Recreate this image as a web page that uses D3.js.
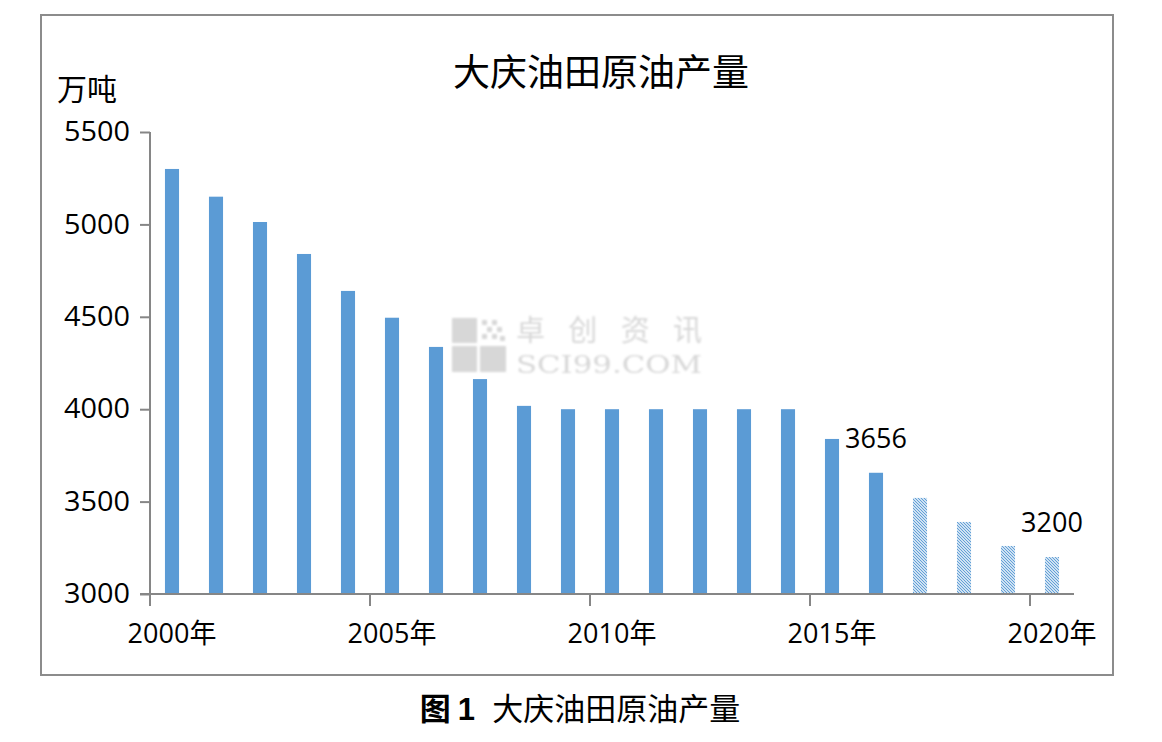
<!DOCTYPE html>
<html><head><meta charset="utf-8">
<script src="https://cdn.jsdelivr.net/npm/d3@7"></script>
<style>body{margin:0;background:#fff;} svg{display:block;}</style>
</head><body>
<script>
const years = [2000,2001,2002,2003,2004,2005,2006,2007,2008,2009,2010,2011,2012,2013,2014,2015,2016,2017,2018,2019,2020];
const output = [5300,5150,5013,4840,4640,4495,4337,4163,4018,4000,4000,4000,4000,4000,4000,3839,3656,3520,3390,3260,3200];
const forecastFrom = 2017;
const yTicks = [3000,3500,4000,4500,5000,5500];
const xLabelYears = [2000,2005,2010,2015,2020];
const annotations = [{year:2016, text:"3656"},{year:2020, text:"3200"}];

const W = 1162, H = 742;
const svg = d3.select("body").append("svg").attr("width", W).attr("height", H);
const cjk = "'Noto Sans CJK SC', sans-serif";
const num = "'Open Sans', 'Noto Sans', sans-serif";

svg.append("rect").attr("x",41).attr("y",15).attr("width",1072).attr("height",660)
  .attr("fill","#fff").attr("stroke","#8c8c8c").attr("stroke-width",2);

const defs = svg.append("defs");
const pat = defs.append("pattern").attr("id","hatch").attr("patternUnits","userSpaceOnUse")
  .attr("width",3).attr("height",3);
pat.append("rect").attr("width",3).attr("height",3).attr("fill","#fff");
pat.append("path").attr("d","M-1,-1 L4,4 M-1,2 L1,4 M2,-1 L4,1").attr("stroke","#5b9bd5").attr("stroke-width",1.1);
defs.append("filter").attr("id","blur").append("feGaussianBlur").attr("stdDeviation",0.8);

const x = d3.scaleBand().domain(years).range([150,1074]).paddingInner(0.68).paddingOuter(0.34);
const y = d3.scaleLinear().domain([3000,5500]).range([594,132]);

// watermark
const wm = svg.append("g").attr("opacity",0.5).attr("fill","#b0b0b0").attr("filter","url(#blur)");
wm.append("rect").attr("x",452).attr("y",318).attr("width",25).attr("height",25);
wm.append("rect").attr("x",452).attr("y",346).attr("width",25).attr("height",26);
wm.append("rect").attr("x",480).attr("y",346).attr("width",26).attr("height",26);
[[482,320],[492,320],[487,327],[497,327],[482,334],[492,334],[500,336]].forEach(p=>
  wm.append("rect").attr("x",p[0]).attr("y",p[1]).attr("width",5).attr("height",5));
wm.append("text").attr("x",516).attr("y",341).attr("font-family",cjk).attr("font-size",29)
  .attr("textLength",186).text("卓创资讯");
wm.append("text").attr("x",516).attr("y",373).attr("font-family","'DejaVu Serif', serif").attr("font-size",25)
  .attr("textLength",186).attr("lengthAdjust","spacingAndGlyphs").text("SCI99.COM");

// bars
svg.append("g").selectAll("rect").data(years).join("rect")
  .attr("x", d=>x(d)).attr("width", x.bandwidth())
  .attr("y", (d,i)=>y(output[i])).attr("height",(d,i)=>y(3000)-y(output[i]))
  .attr("fill", d=> d>=forecastFrom ? "url(#hatch)" : "#5b9bd5");

// y axis
const yAxis = d3.axisLeft(y).tickValues(yTicks).tickSize(10).tickPadding(10).tickFormat(d3.format("d"));
const gy = svg.append("g").attr("transform","translate(150,0)").call(yAxis);
gy.select(".domain").attr("stroke","#868686").attr("stroke-width",2).attr("d","M0,132V594");
gy.selectAll(".tick line").attr("stroke","#868686").attr("stroke-width",2);
gy.selectAll(".tick text").attr("font-family",num).attr("font-size",27).attr("fill","#000")
  .attr("textLength",66).attr("lengthAdjust","spacingAndGlyphs");

// x axis
svg.append("line").attr("x1",140).attr("x2",1074).attr("y1",594).attr("y2",594)
  .attr("stroke","#868686").attr("stroke-width",2);
const gx = svg.append("g");
gx.selectAll("line").data(xLabelYears).join("line")
  .attr("x1",d=>x(d)-x.step()*x.paddingInner()/2).attr("x2",d=>x(d)-x.step()*x.paddingInner()/2)
  .attr("y1",594).attr("y2",606).attr("stroke","#868686").attr("stroke-width",2);
gx.selectAll("text").data(xLabelYears).join("text")
  .attr("x",d=>x(d)+x.bandwidth()/2).attr("y",643).attr("text-anchor","middle")
  .attr("font-size",27).attr("fill","#000")
  .each(function(d){
    const t=d3.select(this);
    t.append("tspan").attr("font-family",num).text(d);
    t.append("tspan").attr("font-family",cjk).text("年");
  });

// annotations
svg.append("g").selectAll("text").data(annotations).join("text")
  .attr("x",d=>x(d.year)+x.bandwidth()/2).attr("y",(d)=>y(output[years.indexOf(d.year)])-25)
  .attr("text-anchor","middle")
  .attr("font-family",num).attr("font-size",27).attr("fill","#000").text(d=>d.text);

// titles
svg.append("text").attr("x",601).attr("y",86).attr("text-anchor","middle")
  .attr("font-family",cjk).attr("font-size",37).attr("fill","#000").text("大庆油田原油产量");
svg.append("text").attr("x",57).attr("y",100).attr("font-family",cjk).attr("font-size",30)
  .attr("fill","#000").text("万吨");
const cap = svg.append("text").attr("x",580).attr("y",720).attr("text-anchor","middle")
  .attr("font-size",31).attr("fill","#000");
cap.append("tspan").attr("font-family",cjk).attr("font-weight","bold").text("图\u00a0");
cap.append("tspan").attr("font-family","'Liberation Sans', sans-serif").attr("font-weight","bold").text("1\u00a0\u00a0");
cap.append("tspan").attr("font-family",cjk).text("大庆油田原油产量");
</script>
</body></html>
